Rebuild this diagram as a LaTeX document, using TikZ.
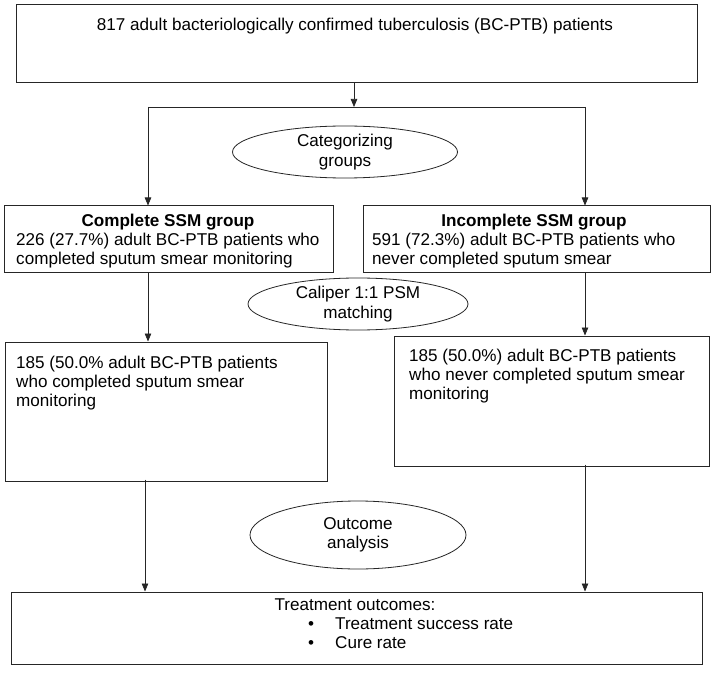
\documentclass[tikz,border=0pt]{standalone}
\usepackage{fontspec}
\setmainfont{Liberation Sans}
\usetikzlibrary{arrows.meta,shapes.geometric}
\begin{document}
\begin{tikzpicture}[x=1pt,y=-1pt,
  box/.style={draw=black!85,line width=1pt,rectangle,inner sep=0pt},
  oval/.style={draw=black!85,line width=0.8pt,ellipse,inner sep=0pt,align=center,font=\fontsize{17.1}{19.5}\selectfont},
  txt/.style={inner sep=0pt,font=\fontsize{17.1}{19.5}\selectfont},
  lt/.style={txt,anchor=base west},
  ct/.style={txt,anchor=base},
  arr/.style={draw=black!85,line width=0.7pt,-{Triangle[length=8pt,width=6.5pt]}},
  ln/.style={draw=black!85,line width=0.7pt}]
\useasboundingbox (0,0) rectangle (714,676);
\fill[white] (0,0) rectangle (714,676);
% boxes
\node[box,minimum width=681pt,minimum height=78pt] (top) at (356.5,44) {};
\node[ct] (toptxt) at (355,31) {817 adult bacteriologically confirmed tuberculosis (BC-PTB) patients};
\node[box,minimum width=329pt,minimum height=66pt] (l1) at (168.5,239) {};
\node[box,minimum width=347pt,minimum height=66pt] (r1) at (536.5,239) {};
\node[box,minimum width=322pt,minimum height=139pt] (l2) at (166,411.5) {};
\node[box,minimum width=315pt,minimum height=130pt] (r2) at (551.5,401) {};
\node[box,minimum width=691pt,minimum height=72pt] (bot) at (356.5,628) {};
% texts
\node[ct,font=\fontsize{17.1}{19.5}\selectfont\bfseries] (l1t) at (168,226) {Complete SSM group};
\node[lt] (l1a) at (16,245) {226 (27.7\%) adult BC-PTB patients who};
\node[lt] (l1b) at (16,264) {completed sputum smear monitoring};
\node[ct,font=\fontsize{17.1}{19.5}\selectfont\bfseries] (r1t) at (534,226) {Incomplete SSM group};
\node[lt] (r1a) at (372,245) {591 (72.3\%) adult BC-PTB patients who};
\node[lt] (r1b) at (372,264) {never completed sputum smear};
\node[lt] (l2a) at (16,368) {185 (50.0\% adult BC-PTB patients};
\node[lt] (l2b) at (16,387) {who completed sputum smear};
\node[lt] (l2c) at (16,406) {monitoring};
\node[lt] (r2a) at (409,361) {185 (50.0\%) adult BC-PTB patients};
\node[lt] (r2b) at (409,380) {who never completed sputum smear};
\node[lt] (r2c) at (409,399) {monitoring};
\node[ct] (bt) at (355,610) {Treatment outcomes:};
\node[ct] (b1) at (311,629) {\textbullet};
\node[ct] (b2) at (311,648) {\textbullet};
\node[lt] (b1t) at (335,629) {Treatment success rate};
\node[lt] (b2t) at (335,648) {Cure rate};
% ellipses
\node[oval,minimum width=225pt,minimum height=52pt] (e1) at (345,152) {Categorizing\\groups};
\node[oval,minimum width=220pt,minimum height=52pt] (e2) at (358,304) {Caliper 1:1 PSM\\matching};
\node[oval,minimum width=216pt,minimum height=68pt] (e3) at (358,535) {Outcome\\analysis};
% connectors
\coordinate (j) at (354,107);
\coordinate (jl) at (148,107);
\coordinate (jr) at (585,107);
\draw[arr] (top.south -| j) -- (j);
\draw[ln] (jl) -- (jr);
\draw[arr] (jl) -- (jl |- l1.north);
\draw[arr] (jr) -- (jr |- r1.north);
\draw[arr] (l1.south -| jl) -- (l2.north -| jl);
\draw[arr] (r1.south -| jr) -- (r2.north -| jr);
\coordinate (xl) at (145,0);
\draw[arr] ([yshift=2pt]l2.south -| xl) -- (bot.north -| xl);
\draw[arr] ([yshift=2pt]r2.south -| jr) -- (bot.north -| jr);
\end{tikzpicture}
\end{document}
